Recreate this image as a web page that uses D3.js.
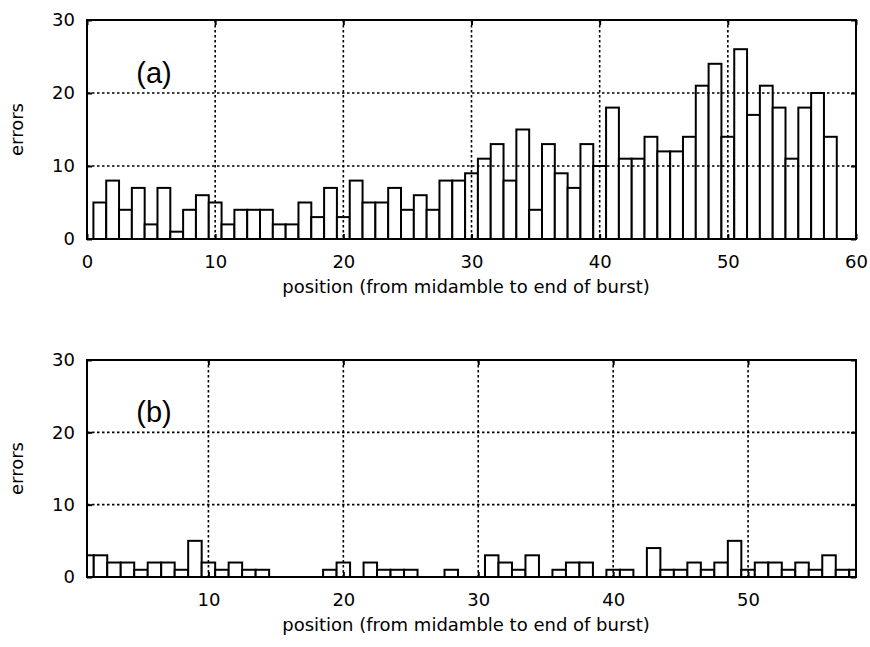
<!DOCTYPE html>
<html>
<head>
<meta charset="utf-8">
<script src="https://cdn.jsdelivr.net/npm/d3@7"></script>
<style>
  html, body { margin: 0; padding: 0; background: #fff; }
  svg text { font-family: "DejaVu Sans", sans-serif; fill: #000; }
</style>
</head>
<body>
<svg id="chart" width="870" height="647"></svg>
<script>
// Bit positions counted from the midamble
const positions = d3.range(1, 59);

// Errors per position, panel (a)
const errorsA = [5, 8, 4, 7, 2, 7, 1, 4, 6, 5,
                 2, 4, 4, 4, 2, 2, 5, 3, 7, 3,
                 8, 5, 5, 7, 4, 6, 4, 8, 8, 9,
                 11, 13, 8, 15, 4, 13, 9, 7, 13, 10,
                 18, 11, 11, 14, 12, 12, 14, 21, 24, 14,
                 26, 17, 21, 18, 11, 18, 20, 14];

// Errors per position, panel (b)
const errorsB = [3, 3, 2, 2, 1, 2, 2, 1, 5, 2,
                 1, 2, 1, 1, 0, 0, 0, 0, 1, 2,
                 0, 2, 1, 1, 1, 0, 0, 1, 0, 0,
                 3, 2, 1, 3, 0, 1, 2, 2, 0, 1,
                 1, 0, 4, 1, 1, 2, 1, 2, 5, 1,
                 2, 2, 1, 2, 1, 3, 1, 1];

const yTicks = [0, 10, 20, 30];
const xTicksA = [0, 10, 20, 30, 40, 50, 60];
const xTicksB = [10, 20, 30, 40, 50];
const xTitle = "position (from midamble to end of burst)";
const yTitle = "errors";

const svg = d3.select("#chart");
const left = 87, right = 856;

const panels = [
  { id: "a", label: "(a)", values: errorsA, xDomain: [0, 60], xTicks: xTicksA, top: 20, bottom: 239 },
  { id: "b", label: "(b)", values: errorsB, xDomain: [1, 58], xTicks: xTicksB, top: 360, bottom: 577 }
];

panels.forEach(p => {
  const x = d3.scaleLinear().domain(p.xDomain).range([left, right]);
  const y = d3.scaleLinear().domain([0, 30]).range([p.bottom, p.top]);
  const g = svg.append("g");

  g.append("clipPath").attr("id", "clip-" + p.id)
    .append("rect")
    .attr("x", left).attr("y", p.top)
    .attr("width", right - left).attr("height", p.bottom - p.top);

  // histogram bars, one unit wide, centred on each position
  g.append("g").attr("clip-path", `url(#clip-${p.id})`)
    .selectAll("rect")
    .data(positions.map((pos, i) => ({ pos, v: p.values[i] })).filter(d => d.v > 0))
    .join("rect")
    .attr("x", d => x(d.pos - 0.5))
    .attr("width", d => x(d.pos + 0.5) - x(d.pos - 0.5))
    .attr("y", d => y(d.v))
    .attr("height", d => y(0) - y(d.v))
    .attr("fill", "#fff")
    .attr("stroke", "#000")
    .attr("stroke-width", 2);

  // dotted grid drawn over the bars
  const grid = g.append("g")
    .attr("stroke", "#000").attr("stroke-width", 1.6)
    .attr("stroke-dasharray", "2.5,2.5").attr("fill", "none");
  grid.selectAll("line.v")
    .data(p.xTicks.filter(t => t > p.xDomain[0] && t < p.xDomain[1]))
    .join("line").attr("class", "v")
    .attr("x1", d => x(d)).attr("x2", d => x(d))
    .attr("y1", p.top).attr("y2", p.bottom);
  grid.selectAll("line.h")
    .data(yTicks.filter(t => t > 0 && t < 30))
    .join("line").attr("class", "h")
    .attr("x1", left).attr("x2", right)
    .attr("y1", d => y(d)).attr("y2", d => y(d));

  // axes: tick labels with short inward ticks
  const yAxis = g.append("g").attr("transform", `translate(${left},0)`)
    .call(d3.axisLeft(y).tickValues(yTicks).tickSize(-5).tickPadding(12));
  const yAxisR = g.append("g").attr("transform", `translate(${right},0)`)
    .call(d3.axisRight(y).tickValues(yTicks).tickSize(-5).tickFormat(""));
  const xAxis = g.append("g").attr("transform", `translate(0,${p.bottom})`)
    .call(d3.axisBottom(x).tickValues(p.xTicks).tickSize(-5).tickPadding(16));
  const xAxisT = g.append("g").attr("transform", `translate(0,${p.top})`)
    .call(d3.axisTop(x).tickValues(p.xTicks).tickSize(-5).tickFormat(""));
  [yAxis, yAxisR, xAxis, xAxisT].forEach(a => {
    a.select(".domain").remove();
    a.selectAll(".tick line").attr("stroke", "#000").attr("stroke-width", 2);
    a.selectAll(".tick text")
      .style("font-family", "'DejaVu Sans', sans-serif")
      .style("font-size", "18px").attr("fill", "#000");
  });

  // frame
  g.append("rect")
    .attr("x", left).attr("y", p.top)
    .attr("width", right - left).attr("height", p.bottom - p.top)
    .attr("fill", "none").attr("stroke", "#000").attr("stroke-width", 2);

  // panel label
  g.append("text")
    .attr("x", 154).attr("y", y(30) + (p.id === "a" ? 63 : 62))
    .attr("text-anchor", "middle")
    .style("font-family", "'Liberation Sans', Arial, sans-serif")
    .style("font-size", "29px")
    .text(p.label);

  // axis titles
  g.append("text")
    .attr("x", 466).attr("y", p.bottom + 54)
    .attr("text-anchor", "middle")
    .style("font-size", "18px")
    .text(xTitle);
  g.append("text")
    .attr("transform", `translate(23,${(p.top + p.bottom) / 2}) rotate(-90)`)
    .attr("text-anchor", "middle")
    .style("font-size", "18px")
    .text(yTitle);
});
</script>
</body>
</html>
